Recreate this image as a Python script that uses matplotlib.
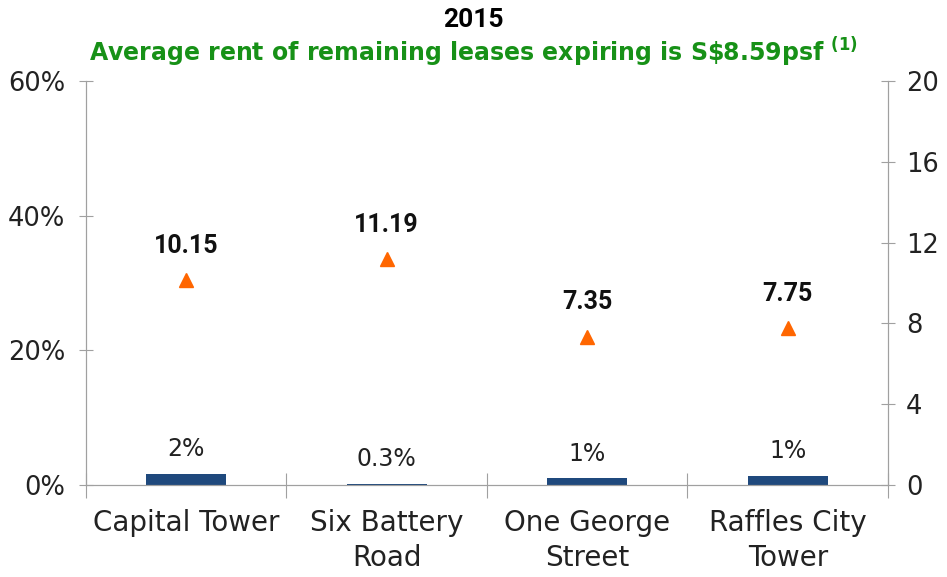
import numpy as np
import matplotlib.pyplot as plt

# data
buildings = ['Capital Tower', 'Six Battery\nRoad', 'One George\nStreet', 'Raffles City\nTower']
expiring_pct = [1.7, 0.2, 1.0, 1.4]          # bar heights (%)
expiring_lbl = ['2%', '0.3%', '1%', '1%']
avg_rent = [10.15, 11.19, 7.35, 7.75]          # S$ psf, right axis

bar_col = '#1F497D'
tri_col = '#FF6600'
axis_col = '#A0A0A0'
txt_font = 'DejaVu Sans'
bold_font = 'Roboto'

fig = plt.figure(figsize=(9.47, 5.77), dpi=100)
ax = fig.add_axes([0.0908, 0.1594, 0.8469, 0.7002])
ax2 = ax.twinx()

x = np.arange(len(buildings))
ax.bar(x, expiring_pct, width=0.4, color=bar_col, zorder=2)
for xi, h, lbl in zip(x, expiring_pct, expiring_lbl):
    ax.annotate(lbl, (xi, h), xytext=(0, 9), textcoords='offset points',
                ha='center', va='bottom', fontsize=17, color='#222222', family=txt_font)

ax2.plot(x, avg_rent, linestyle='none', marker='^', markersize=10, color=tri_col, zorder=3)
for xi, v in zip(x, avg_rent):
    ax2.annotate(f'{v:.2f}', (xi, v), xytext=(0, 16), textcoords='offset points',
                 ha='center', va='bottom', fontsize=18, fontweight='bold',
                 color='#111111', family=bold_font)

ax.set_xlim(-0.5, len(buildings) - 0.5)
ax.set_ylim(0, 60)
ax.set_yticks([0, 20, 40, 60])
ax.set_yticklabels([f'{t}%' for t in [0, 20, 40, 60]])
ax2.set_ylim(0, 20)
ax2.set_yticks([0, 4, 8, 12, 16, 20])

# category separators as x ticks
ax.set_xticks(np.arange(-0.5, len(buildings), 1.0))
ax.set_xticklabels([])
ax.set_xticks(x, minor=True)
ax.set_xticklabels(buildings, minor=True, fontsize=20, family=txt_font,
                   color='#222222', linespacing=1.35)
ax.tick_params(axis='x', which='minor', length=0, pad=17)
ax.tick_params(axis='x', which='major', direction='inout', length=18, color=axis_col)
ax.tick_params(axis='y', direction='inout', length=10, color=axis_col,
               labelsize=18.5, labelcolor='#222222', pad=10)
ax2.tick_params(axis='y', direction='inout', length=10, color=axis_col,
                labelsize=18.5, labelcolor='#222222', pad=8)
for a in (ax, ax2):
    a.spines['top'].set_visible(False)
    for s in ('left', 'right', 'bottom'):
        a.spines[s].set_color(axis_col)
    for t in a.get_yticklabels():
        t.set_family(txt_font)

fig.text(0.5, 0.965, '2015', ha='center', va='center', fontsize=19,
         fontweight='bold', family=bold_font)
fig.text(0.5, 0.91, r'Average rent of remaining leases expiring is S\$8.59psf $^{\mathbf{(1)}}$',
         ha='center', va='center', fontsize=17, fontweight='bold',
         color='#179117', family=txt_font)

fig.savefig('out.png', dpi=100)
